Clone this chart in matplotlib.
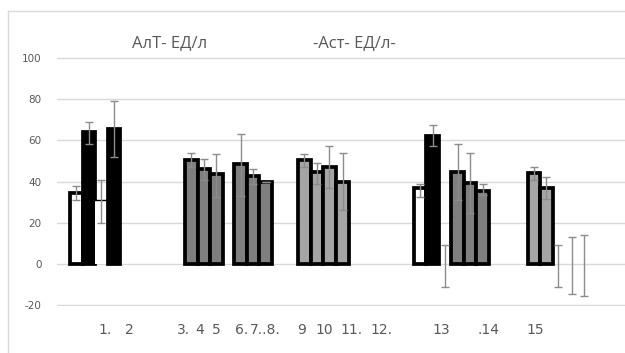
import numpy as np
import matplotlib.pyplot as plt
from matplotlib.lines import Line2D

plt.rcParams['axes.unicode_minus'] = False

# bar slots (centre, in bar widths), values and error-bar bounds
slots = [0.5, 1.5, 2.5, 3.5,
         9.7, 10.7, 11.7,
         13.65, 14.65, 15.65,
         18.75, 19.75, 20.75, 21.8,
         28.0, 29.0, 30.0, 31.0, 32.0, 33.0,
         37.1, 38.1, 39.05, 40.15, 41.1]
values = [34.5, 63.8, 31.0, 65.7,
          50.6, 46.2, 43.6,
          48.5, 42.8, 40.0,
          50.5, 44.5, 47.0, 40.0,
          36.7, 62.3, 0.0, 44.5, 39.3, 35.6,
          44.2, 37.0, 0.0, 0.0, 0.0]
err_lo = [31.0, 58.4, 20.0, 51.7,
          47.0, 40.5, 32.5,
          33.0, 38.6, 40.0,
          47.0, 39.0, 36.7, 26.0,
          32.5, 57.0, -11.0, 31.0, 24.6, 33.3,
          40.6, 31.5, -11.0, -14.5, -15.5]
err_hi = [37.7, 69.0, 40.5, 79.0,
          53.6, 51.0, 53.5,
          63.0, 46.2, 40.0,
          53.5, 49.0, 57.0, 53.7,
          39.0, 67.6, 9.2, 58.4, 53.7, 38.6,
          47.0, 42.0, 9.2, 13.0, 14.0]
fills = ['white', 'black', 'white', 'black',
         'dark', 'dark', 'dark',
         'dark', 'dark', 'dark',
         'light', 'light', 'light', 'light',
         'white', 'black', 'none', 'dark', 'dark', 'dark',
         'light', 'light', 'none', 'none', 'none']

tick_pos = [2.8, 4.72, 9.12, 10.4, 11.68, 13.76, 15.6, 18.56, 20.32, 22.56, 24.88, 29.68, 33.44, 37.2]
tick_labels = ['1.', '2', '3.', '4', '5', '6.', '7..8.', '9', '10', '11.', '12.', '13', '.14', '15']

colors = {'white': 'white', 'black': 'black', 'dark': '#7f7f7f', 'light': '#a5a5a5'}
txt = '#595959'

fig = plt.figure(figsize=(6.25, 3.53), dpi=100)
# chart frame: only left and top edges are inside the picture
top = 1 - 10.5 / 353
left = 7.5 / 625
fig.add_artist(Line2D([left, left], [0, top], transform=fig.transFigure, color='#d9d9d9', lw=1))
fig.add_artist(Line2D([left, 1], [top, top], transform=fig.transFigure, color='#d9d9d9', lw=1))

ax = fig.add_axes([57 / 625, 47 / 353, 1 - 57 / 625, 249 / 353])

for x, v, f in zip(slots, values, fills):
    if f == 'none':
        continue
    if f == 'white' and v < 32:
        # white bar without a frame, just its top line
        ax.bar(x, v, width=1.0, color='white', edgecolor='none', zorder=2)
        ax.plot([x - 0.5, x + 0.5], [v, v], color='black', lw=1, zorder=3)
    else:
        ax.bar(x, v, width=1.0, color=colors[f], edgecolor='black', linewidth=2.7, zorder=2)

v = np.array(values)
yerr = [v - np.array(err_lo), np.array(err_hi) - v]
ax.errorbar(slots, values, yerr=yerr, fmt='none', ecolor='#8c8c8c', elinewidth=1,
            capsize=2.6, capthick=1, zorder=4)

ax.set_ylim(-20.4, 100.4)
ax.set_xlim(-1.04, 44.4)
ax.set_yticks(range(-20, 101, 20))
ax.yaxis.grid(True, color='#d9d9d9', linewidth=1)
ax.set_axisbelow(True)
for s in ax.spines.values():
    s.set_visible(False)
ax.tick_params(length=0)
ax.tick_params(axis='y', pad=11, labelsize=7.5, labelcolor=txt)
ax.tick_params(axis='x', pad=12, labelsize=10, labelcolor=txt)
ax.set_xticks(tick_pos)
ax.set_xticklabels(tick_labels)
for lab in ax.get_xticklabels() + ax.get_yticklabels():
    lab.set_family(['Liberation Sans Narrow', 'DejaVu Sans'])

fig.text(170 / 625, 1 - 43 / 353, 'АлТ- ЕД/л', ha='center', va='center', fontsize=12,
         color=txt, family=['Open Sans', 'DejaVu Sans'])
fig.text(354 / 625, 1 - 43 / 353, '-Аст- ЕД/л-', ha='center', va='center', fontsize=12,
         color=txt, family=['Open Sans', 'DejaVu Sans'])

fig.savefig('out.png', dpi=100)
